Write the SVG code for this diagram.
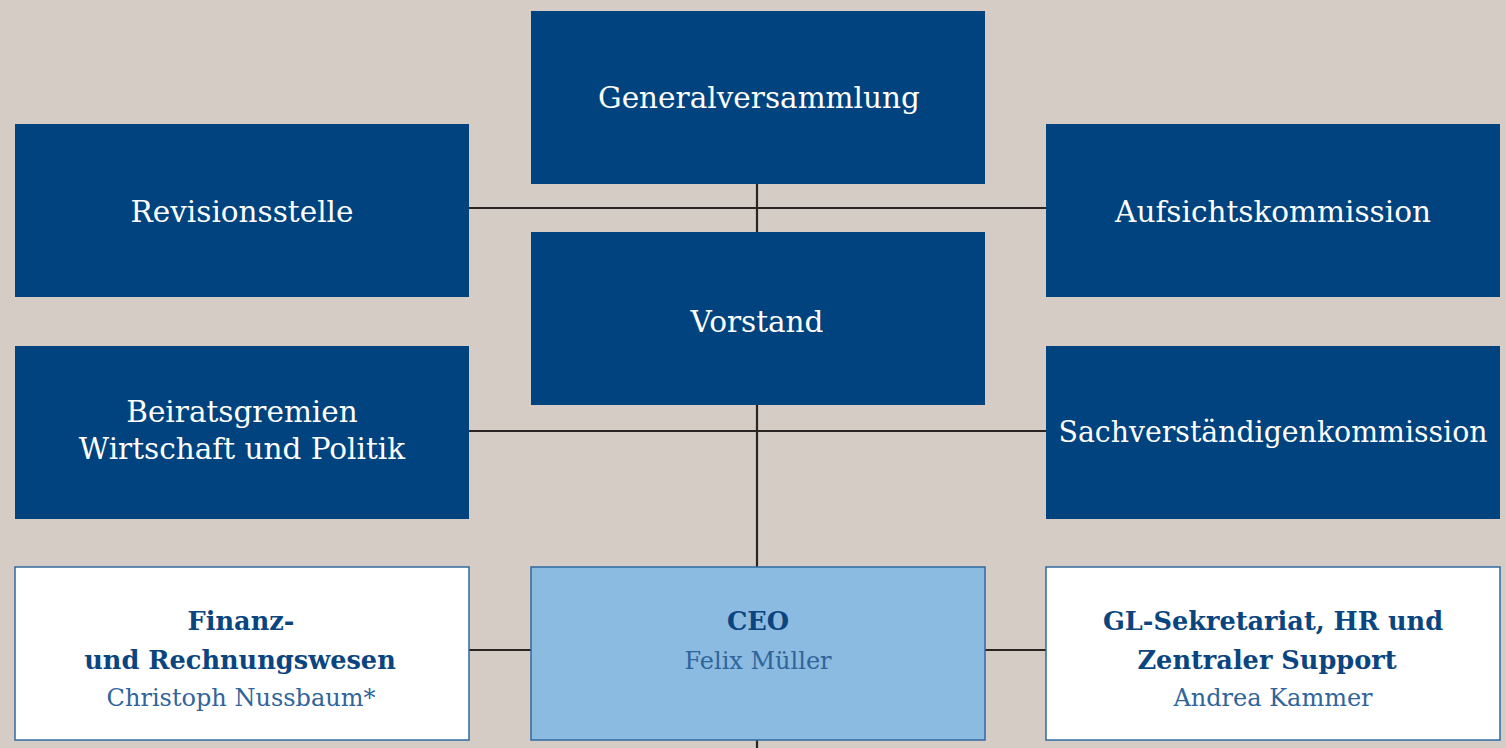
<svg xmlns="http://www.w3.org/2000/svg" width="1506" height="748" viewBox="0 0 1506 748">
<style>
.dk{fill:#00437e}
.wh{fill:#ffffff;stroke:#2f6aa0;stroke-width:1.5}
.lb{fill:#8bbbe1;stroke:#2f6aa0;stroke-width:1.5}
.t{font-family:"DejaVu Serif",serif;font-size:29.5px;fill:#ffffff;text-anchor:middle}
.b{font-family:"DejaVu Serif",serif;font-size:25.6px;font-weight:bold;fill:#0b4580;text-anchor:middle}
.r{font-family:"DejaVu Serif",serif;font-size:24px;fill:#2f659b;text-anchor:middle}
.ln{stroke:#2a2523;stroke-width:2.2;fill:none}
</style>
<rect width="1506" height="748" fill="#d5ccc6"/>
<g id="connectors">
<path class="ln" d="M469 208H1046M757 184V232M469 431H1046M757 405V567M469 650H531M985 650H1046M757 740V748"/>
</g>
<g id="generalversammlung"><rect class="dk" x="531" y="11" width="454" height="173"/><text class="t" x="759" y="108">Generalversammlung</text></g>
<g id="revisionsstelle"><rect class="dk" x="15" y="124" width="454" height="173"/><text class="t" x="242" y="222">Revisionsstelle</text></g>
<g id="aufsichtskommission"><rect class="dk" x="1046" y="124" width="454" height="173"/><text class="t" x="1273" y="222">Aufsichtskommission</text></g>
<g id="vorstand"><rect class="dk" x="531" y="232" width="454" height="173"/><text class="t" x="757" y="332">Vorstand</text></g>
<g id="beiratsgremien"><rect class="dk" x="15" y="346" width="454" height="173"/><text class="t" x="242" y="422">Beiratsgremien</text><text class="t" x="242" y="459">Wirtschaft und Politik</text></g>
<g id="sachverstaendigenkommission"><rect class="dk" x="1046" y="346" width="454" height="173"/><text class="t" x="1273" y="442" textLength="429" lengthAdjust="spacingAndGlyphs">Sachverständigenkommission</text></g>
<g id="finanz"><rect class="wh" x="15" y="567" width="454" height="173"/><text class="b" x="241" y="630">Finanz-</text><text class="b" x="240" y="669">und Rechnungswesen</text><text class="r" x="241" y="706">Christoph Nussbaum*</text></g>
<g id="ceo"><rect class="lb" x="531" y="567" width="454" height="173"/><text class="b" x="758" y="630">CEO</text><text class="r" x="758" y="669">Felix Müller</text></g>
<g id="gl"><rect class="wh" x="1046" y="567" width="454" height="173"/><text class="b" x="1273" y="630">GL-Sekretariat, HR und</text><text class="b" x="1267" y="669">Zentraler Support</text><text class="r" x="1273" y="706">Andrea Kammer</text></g>
</svg>
